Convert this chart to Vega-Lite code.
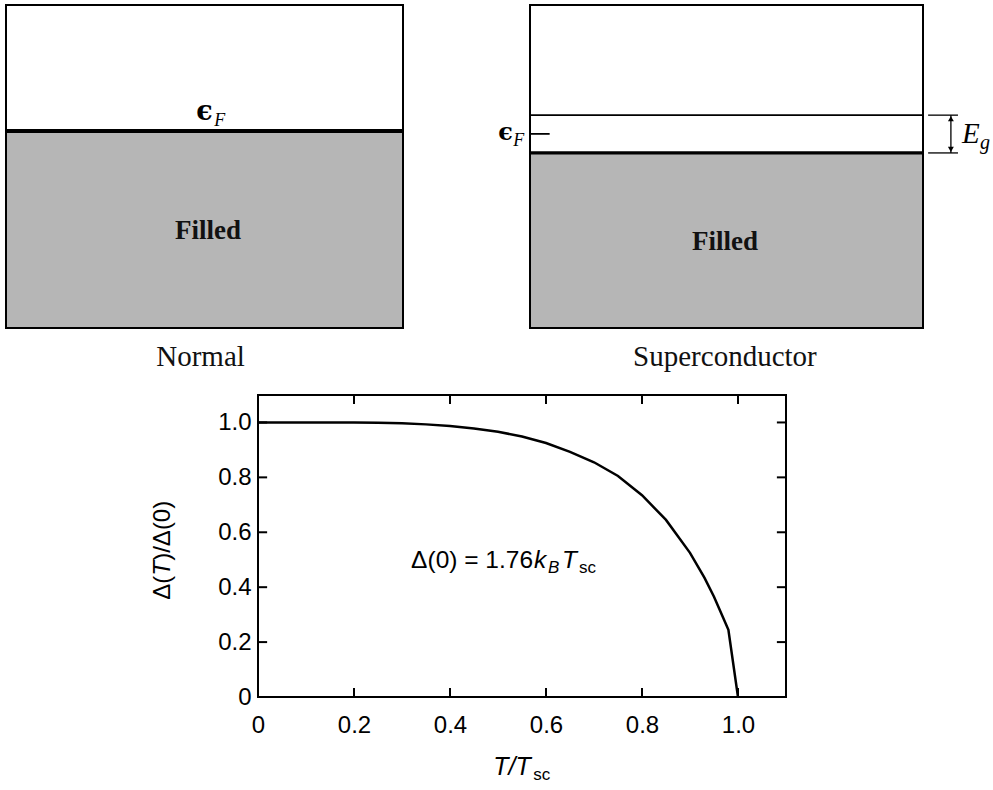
{
  "$schema": "https://vega.github.io/schema/vega-lite/v6.json",
  "background": "white",
  "padding": {"left": 4, "top": 4, "right": 0, "bottom": 0},
  "spacing": 20,
  "config": {
    "view": {"stroke": null},
    "axis": {"grid": false, "ticks": false, "domain": false, "labelFont": "Liberation Sans", "labelFontSize": 24, "labelColor": "black", "labelFlush": false, "labelOverlap": false},
    "axisX": {"labelPadding": 16},
    "axisY": {"labelPadding": 7}
  },
  "datasets": {
    "bands": [
      {"panel": "Normal", "region": "band", "x0": 0, "x1": 1, "e0": 0, "e1": 1},
      {"panel": "Normal", "region": "filled", "x0": 0, "x1": 1, "e0": 0, "e1": 0.61},
      {"panel": "Superconductor", "region": "band", "x0": 0, "x1": 1, "e0": 0, "e1": 1},
      {"panel": "Superconductor", "region": "filled", "x0": 0, "x1": 1, "e0": 0, "e1": 0.542}
    ],
    "levels": [
      {"panel": "Normal", "level": "filled top", "e": 0.61},
      {"panel": "Superconductor", "level": "gap top", "e": 0.659},
      {"panel": "Superconductor", "level": "filled top", "e": 0.542}
    ],
    "gapcurve": [
      {"t": 0, "d": 1.0},
      {"t": 0.1, "d": 1.0},
      {"t": 0.2, "d": 0.9995},
      {"t": 0.25, "d": 0.999},
      {"t": 0.3, "d": 0.997},
      {"t": 0.35, "d": 0.993},
      {"t": 0.4, "d": 0.987},
      {"t": 0.45, "d": 0.978},
      {"t": 0.5, "d": 0.966},
      {"t": 0.55, "d": 0.949},
      {"t": 0.6, "d": 0.925},
      {"t": 0.65, "d": 0.893},
      {"t": 0.7, "d": 0.855},
      {"t": 0.75, "d": 0.805},
      {"t": 0.8, "d": 0.735},
      {"t": 0.85, "d": 0.645},
      {"t": 0.9, "d": 0.525},
      {"t": 0.93, "d": 0.435},
      {"t": 0.95, "d": 0.365},
      {"t": 0.97, "d": 0.285},
      {"t": 0.98, "d": 0.245},
      {"t": 1.0, "d": 0.0}
    ],
    "ticks": [{"v": 0.2}, {"v": 0.4}, {"v": 0.6}, {"v": 0.8}, {"v": 1.0}]
  },
  "vconcat": [
    {
      "spacing": 127,
      "bounds": "flush",
      "hconcat": [
        {
          "width": 397,
          "height": 323,
          "layer": [
            {
              "data": {"name": "bands"},
              "transform": [{"filter": "datum.panel === 'Normal'"}],
              "mark": {"type": "rect", "stroke": "black", "strokeWidth": 2},
              "encoding": {
                "x": {"field": "x0", "type": "quantitative", "scale": {"domain": [0, 1]}, "axis": null},
                "x2": {"field": "x1"},
                "y": {"field": "e0", "type": "quantitative", "scale": {"domain": [0, 1]}, "axis": null},
                "y2": {"field": "e1"},
                "fill": {"field": "region", "type": "nominal", "scale": {"domain": ["band", "filled"], "range": ["#ffffff", "#b6b6b6"]}, "legend": null}
              }
            },
            {
              "data": {"name": "levels"},
              "transform": [{"filter": "datum.panel === 'Normal'"}],
              "mark": {"type": "rule", "color": "black", "strokeWidth": 4},
              "encoding": {
                "x": {"datum": 0, "type": "quantitative", "axis": null},
                "x2": {"datum": 1},
                "y": {"field": "e", "type": "quantitative", "axis": null}
              }
            },
            {
              "data": {"values": [{"sym": "ϵ", "sub": "F", "x": 0.479, "e": 0.644}]},
              "layer": [
                {
                  "mark": {"type": "text", "font": "DejaVu Serif", "fontWeight": "bold", "fontSize": 27, "align": "left", "baseline": "alphabetic", "color": "black"},
                  "encoding": {
                    "x": {"field": "x", "type": "quantitative", "axis": null},
                    "y": {"field": "e", "type": "quantitative", "axis": null},
                    "text": {"field": "sym"}
                  }
                },
                {
                  "mark": {"type": "text", "font": "Liberation Serif", "fontStyle": "italic", "fontSize": 18, "align": "left", "baseline": "alphabetic", "dx": 18, "dy": 6, "color": "black"},
                  "encoding": {
                    "x": {"field": "x", "type": "quantitative", "axis": null},
                    "y": {"field": "e", "type": "quantitative", "axis": null},
                    "text": {"field": "sub"}
                  }
                }
              ]
            },
            {
              "data": {"values": [{"label": "Filled", "x": 0.509, "e": 0.276}]},
              "mark": {"type": "text", "font": "Liberation Serif", "fontWeight": "bold", "fontSize": 27, "align": "center", "baseline": "alphabetic", "color": "#111"},
              "encoding": {
                "x": {"field": "x", "type": "quantitative", "axis": null},
                "y": {"field": "e", "type": "quantitative", "axis": null},
                "text": {"field": "label"}
              }
            },
            {
              "data": {"values": [{"label": "Normal", "x": 0.49, "e": -0.118}]},
              "mark": {"type": "text", "font": "Liberation Serif", "fontSize": 29, "align": "center", "baseline": "alphabetic", "color": "#111"},
              "encoding": {
                "x": {"field": "x", "type": "quantitative", "axis": null},
                "y": {"field": "e", "type": "quantitative", "axis": null},
                "text": {"field": "label"}
              }
            }
          ]
        },
        {
          "width": 393,
          "height": 323,
          "layer": [
            {
              "data": {"name": "bands"},
              "transform": [{"filter": "datum.panel === 'Superconductor'"}],
              "mark": {"type": "rect", "stroke": "black", "strokeWidth": 2},
              "encoding": {
                "x": {"field": "x0", "type": "quantitative", "scale": {"domain": [0, 1]}, "axis": null},
                "x2": {"field": "x1"},
                "y": {"field": "e0", "type": "quantitative", "scale": {"domain": [0, 1]}, "axis": null},
                "y2": {"field": "e1"},
                "fill": {"field": "region", "type": "nominal", "scale": {"domain": ["band", "filled"], "range": ["#ffffff", "#b6b6b6"]}, "legend": null}
              }
            },
            {
              "data": {"name": "levels"},
              "transform": [{"filter": "datum.panel === 'Superconductor'"}],
              "mark": {"type": "rule", "color": "black"},
              "encoding": {
                "x": {"datum": 0, "type": "quantitative", "axis": null},
                "x2": {"datum": 1},
                "y": {"field": "e", "type": "quantitative", "axis": null},
                "strokeWidth": {"field": "level", "type": "nominal", "scale": {"domain": ["gap top", "filled top"], "range": [1.6, 3.2]}, "legend": null}
              }
            },
            {
              "data": {"name": "levels"},
              "transform": [{"filter": "datum.panel === 'Superconductor'"}],
              "mark": {"type": "rule", "color": "black", "strokeWidth": 1.3},
              "encoding": {
                "x": {"datum": 1.013, "type": "quantitative", "axis": null},
                "x2": {"datum": 1.089},
                "y": {"field": "e", "type": "quantitative", "axis": null}
              }
            },
            {
              "data": {"values": [{"level": "Fermi", "e": 0.601}]},
              "mark": {"type": "rule", "color": "black", "strokeWidth": 1.8},
              "encoding": {
                "x": {"datum": 0, "type": "quantitative", "axis": null},
                "x2": {"datum": 0.05},
                "y": {"field": "e", "type": "quantitative", "axis": null}
              }
            },
            {
              "data": {"values": [{"lo": 0.542, "hi": 0.659}]},
              "mark": {"type": "rule", "color": "black", "strokeWidth": 1.3},
              "encoding": {
                "x": {"datum": 1.071, "type": "quantitative", "axis": null},
                "y": {"field": "lo", "type": "quantitative", "axis": null},
                "y2": {"field": "hi"}
              }
            },
            {
              "data": {"values": [{"dir": "up", "e": 0.648}, {"dir": "down", "e": 0.553}]},
              "mark": {"type": "point", "filled": true, "color": "black", "size": 35, "opacity": 1},
              "encoding": {
                "x": {"datum": 1.071, "type": "quantitative", "axis": null},
                "y": {"field": "e", "type": "quantitative", "axis": null},
                "shape": {"field": "dir", "type": "nominal", "scale": {"domain": ["up", "down"], "range": ["triangle-up", "triangle-down"]}, "legend": null}
              }
            },
            {
              "data": {"values": [{"sym": "ϵ", "sub": "F", "x": -0.081, "e": 0.582}]},
              "layer": [
                {
                  "mark": {"type": "text", "font": "DejaVu Serif", "fontWeight": "bold", "fontSize": 24, "align": "left", "baseline": "alphabetic", "color": "black"},
                  "encoding": {
                    "x": {"field": "x", "type": "quantitative", "axis": null},
                    "y": {"field": "e", "type": "quantitative", "axis": null},
                    "text": {"field": "sym"}
                  }
                },
                {
                  "mark": {"type": "text", "font": "Liberation Serif", "fontStyle": "italic", "fontSize": 18, "align": "left", "baseline": "alphabetic", "dx": 15, "dy": 6, "color": "black"},
                  "encoding": {
                    "x": {"field": "x", "type": "quantitative", "axis": null},
                    "y": {"field": "e", "type": "quantitative", "axis": null},
                    "text": {"field": "sub"}
                  }
                }
              ]
            },
            {
              "data": {"values": [{"sym": "E", "sub": "g", "x": 1.099, "e": 0.573}]},
              "layer": [
                {
                  "mark": {"type": "text", "font": "Liberation Serif", "fontStyle": "italic", "fontSize": 29, "align": "left", "baseline": "alphabetic", "color": "black"},
                  "encoding": {
                    "x": {"field": "x", "type": "quantitative", "axis": null},
                    "y": {"field": "e", "type": "quantitative", "axis": null},
                    "text": {"field": "sym"}
                  }
                },
                {
                  "mark": {"type": "text", "font": "Liberation Serif", "fontStyle": "italic", "fontSize": 20, "align": "left", "baseline": "alphabetic", "dx": 18, "dy": 6, "color": "black"},
                  "encoding": {
                    "x": {"field": "x", "type": "quantitative", "axis": null},
                    "y": {"field": "e", "type": "quantitative", "axis": null},
                    "text": {"field": "sub"}
                  }
                }
              ]
            },
            {
              "data": {"values": [{"label": "Filled", "x": 0.496, "e": 0.241}]},
              "mark": {"type": "text", "font": "Liberation Serif", "fontWeight": "bold", "fontSize": 27, "align": "center", "baseline": "alphabetic", "color": "#111"},
              "encoding": {
                "x": {"field": "x", "type": "quantitative", "axis": null},
                "y": {"field": "e", "type": "quantitative", "axis": null},
                "text": {"field": "label"}
              }
            },
            {
              "data": {"values": [{"label": "Superconductor", "x": 0.496, "e": -0.118}]},
              "mark": {"type": "text", "font": "Liberation Serif", "fontSize": 29, "align": "center", "baseline": "alphabetic", "color": "#111"},
              "encoding": {
                "x": {"field": "x", "type": "quantitative", "axis": null},
                "y": {"field": "e", "type": "quantitative", "axis": null},
                "text": {"field": "label"}
              }
            }
          ]
        }
      ]
    },
    {
      "spacing": 251,
      "bounds": "flush",
      "hconcat": [
        {
          "width": 1,
          "height": 302,
          "data": {"values": [{"s": ""}]},
          "mark": {"type": "text"},
          "encoding": {"text": {"field": "s"}}
        },
        {
          "width": 528,
          "height": 302,
          "view": {"stroke": "black", "strokeWidth": 2},
          "layer": [
            {
              "data": {"name": "gapcurve"},
              "mark": {"type": "line", "color": "black", "strokeWidth": 2.5},
              "encoding": {
                "x": {
                  "field": "t", "type": "quantitative", "scale": {"domain": [0, 1.1]},
                  "axis": {"values": [0, 0.2, 0.4, 0.6, 0.8, 1.0], "labelExpr": "datum.value == 0 ? '0' : format(datum.value, '.1f')", "title": null}
                },
                "y": {
                  "field": "d", "type": "quantitative", "scale": {"domain": [0, 1.1]},
                  "axis": {"values": [0, 0.2, 0.4, 0.6, 0.8, 1.0], "labelExpr": "datum.value == 0 ? '0' : format(datum.value, '.1f')", "title": null}
                }
              }
            },
            {
              "data": {"name": "ticks"},
              "mark": {"type": "rule", "color": "black", "strokeWidth": 2},
              "encoding": {
                "x": {"field": "v", "type": "quantitative"},
                "y": {"datum": 0, "type": "quantitative"},
                "y2": {"datum": 0.033}
              }
            },
            {
              "data": {"name": "ticks"},
              "mark": {"type": "rule", "color": "black", "strokeWidth": 2},
              "encoding": {
                "x": {"field": "v", "type": "quantitative"},
                "y": {"datum": 1.1, "type": "quantitative"},
                "y2": {"datum": 1.067}
              }
            },
            {
              "data": {"name": "ticks"},
              "mark": {"type": "rule", "color": "black", "strokeWidth": 2},
              "encoding": {
                "y": {"field": "v", "type": "quantitative"},
                "x": {"datum": 0, "type": "quantitative"},
                "x2": {"datum": 0.019}
              }
            },
            {
              "data": {"name": "ticks"},
              "mark": {"type": "rule", "color": "black", "strokeWidth": 2},
              "encoding": {
                "y": {"field": "v", "type": "quantitative"},
                "x": {"datum": 1.1, "type": "quantitative"},
                "x2": {"datum": 1.081}
              }
            },
            {
              "data": {"values": [{"main": "Δ(0) = 1.76", "k": "k", "b": "B", "tt": "T", "sc": "sc", "x": 0.319, "y": 0.471}]},
              "layer": [
                {
                  "mark": {"type": "text", "font": "Liberation Sans", "fontSize": 24.5, "align": "left", "baseline": "alphabetic", "color": "black"},
                  "encoding": {"x": {"field": "x", "type": "quantitative"}, "y": {"field": "y", "type": "quantitative"}, "text": {"field": "main"}}
                },
                {
                  "mark": {"type": "text", "font": "Liberation Sans", "fontStyle": "italic", "fontSize": 24.5, "align": "left", "baseline": "alphabetic", "dx": 123, "color": "black"},
                  "encoding": {"x": {"field": "x", "type": "quantitative"}, "y": {"field": "y", "type": "quantitative"}, "text": {"field": "k"}}
                },
                {
                  "mark": {"type": "text", "font": "Liberation Sans", "fontStyle": "italic", "fontSize": 17, "align": "left", "baseline": "alphabetic", "dx": 137, "dy": 5, "color": "black"},
                  "encoding": {"x": {"field": "x", "type": "quantitative"}, "y": {"field": "y", "type": "quantitative"}, "text": {"field": "b"}}
                },
                {
                  "mark": {"type": "text", "font": "Liberation Sans", "fontStyle": "italic", "fontSize": 24.5, "align": "left", "baseline": "alphabetic", "dx": 151, "color": "black"},
                  "encoding": {"x": {"field": "x", "type": "quantitative"}, "y": {"field": "y", "type": "quantitative"}, "text": {"field": "tt"}}
                },
                {
                  "mark": {"type": "text", "font": "Liberation Sans", "fontSize": 17, "align": "left", "baseline": "alphabetic", "dx": 168, "dy": 5, "color": "black"},
                  "encoding": {"x": {"field": "x", "type": "quantitative"}, "y": {"field": "y", "type": "quantitative"}, "text": {"field": "sc"}}
                }
              ]
            },
            {
              "data": {"values": [{"main": "T/T", "sc": "sc", "x": 0.49, "y": -0.285}]},
              "layer": [
                {
                  "mark": {"type": "text", "font": "Liberation Sans", "fontStyle": "italic", "fontSize": 25, "align": "left", "baseline": "alphabetic", "color": "black"},
                  "encoding": {"x": {"field": "x", "type": "quantitative"}, "y": {"field": "y", "type": "quantitative"}, "text": {"field": "main"}}
                },
                {
                  "mark": {"type": "text", "font": "Liberation Sans", "fontSize": 17, "align": "left", "baseline": "alphabetic", "dx": 40, "dy": 5, "color": "black"},
                  "encoding": {"x": {"field": "x", "type": "quantitative"}, "y": {"field": "y", "type": "quantitative"}, "text": {"field": "sc"}}
                }
              ]
            },
            {
              "data": {"values": [{"p1": "Δ(", "p2": "T", "p3": ")/Δ(0)", "x": -0.183, "y": 0.354}]},
              "layer": [
                {
                  "mark": {"type": "text", "font": "Liberation Sans", "fontSize": 24, "angle": 270, "align": "left", "baseline": "alphabetic", "color": "black"},
                  "encoding": {"x": {"field": "x", "type": "quantitative"}, "y": {"field": "y", "type": "quantitative"}, "text": {"field": "p1"}}
                },
                {
                  "mark": {"type": "text", "font": "Liberation Sans", "fontStyle": "italic", "fontSize": 24, "angle": 270, "align": "left", "baseline": "alphabetic", "dx": 24, "color": "black"},
                  "encoding": {"x": {"field": "x", "type": "quantitative"}, "y": {"field": "y", "type": "quantitative"}, "text": {"field": "p2"}}
                },
                {
                  "mark": {"type": "text", "font": "Liberation Sans", "fontSize": 24, "angle": 270, "align": "left", "baseline": "alphabetic", "dx": 39, "color": "black"},
                  "encoding": {"x": {"field": "x", "type": "quantitative"}, "y": {"field": "y", "type": "quantitative"}, "text": {"field": "p3"}}
                }
              ]
            }
          ]
        }
      ]
    }
  ]
}
